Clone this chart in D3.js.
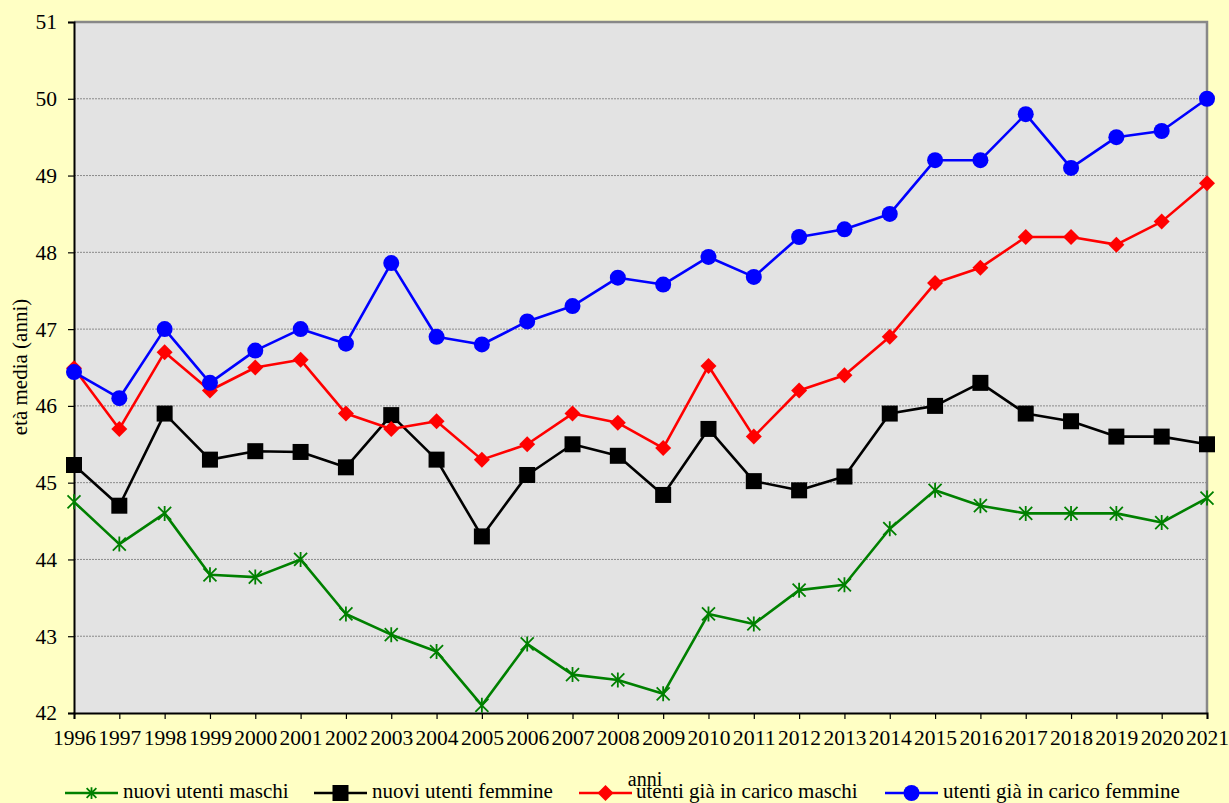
<!DOCTYPE html>
<html>
<head>
<meta charset="utf-8">
<script src="https://cdn.jsdelivr.net/npm/d3@7"></script>
<style>
  html, body { margin: 0; padding: 0; background: #FFFFC4; }
  svg { display: block; font-family: "Liberation Serif", "Times New Roman", serif; }
</style>
</head>
<body>
<svg id="chart" width="1229" height="803"></svg>
<script>
// Età media degli utenti per anno
const years = d3.range(1996, 2022);
const nuoviMaschi = [44.75, 44.2, 44.6, 43.8, 43.77, 44.0, 43.29, 43.02, 42.8, 42.1, 42.9, 42.5, 42.43, 42.25, 43.29, 43.16, 43.6, 43.67, 44.4, 44.9, 44.7, 44.6, 44.6, 44.6, 44.48, 44.8];
const nuoviFemmine = [45.23, 44.7, 45.9, 45.3, 45.41, 45.4, 45.2, 45.88, 45.3, 44.3, 45.1, 45.5, 45.35, 44.84, 45.7, 45.02, 44.9, 45.08, 45.9, 46.0, 46.3, 45.9, 45.8, 45.6, 45.6, 45.5];
const caricoMaschi = [46.49, 45.7, 46.7, 46.2, 46.5, 46.6, 45.9, 45.7, 45.8, 45.3, 45.5, 45.9, 45.78, 45.45, 46.52, 45.6, 46.2, 46.4, 46.9, 47.6, 47.8, 48.2, 48.2, 48.1, 48.4, 48.9];
const caricoFemmine = [46.44, 46.1, 47.0, 46.3, 46.72, 47.0, 46.81, 47.86, 46.9, 46.8, 47.1, 47.3, 47.67, 47.58, 47.94, 47.68, 48.2, 48.3, 48.5, 49.2, 49.2, 49.8, 49.1, 49.5, 49.58, 50.0];
const yTicks = [42, 43, 44, 45, 46, 47, 48, 49, 50, 51];
const seriesNames = ["nuovi utenti maschi", "nuovi utenti femmine", "utenti già in carico maschi", "utenti già in carico femmine"];

const series = [
  { name: seriesNames[0], values: nuoviMaschi,  color: "#008000", marker: "asterisk" },
  { name: seriesNames[1], values: nuoviFemmine, color: "#000000", marker: "square" },
  { name: seriesNames[2], values: caricoMaschi, color: "#FF0000", marker: "diamond" },
  { name: seriesNames[3], values: caricoFemmine, color: "#0000FF", marker: "circle" }
];

const svg = d3.select("#chart");
const plot = { left: 74, right: 1207, top: 22, bottom: 713 };

const x = d3.scaleLinear().domain([1996, 2021]).range([plot.left, plot.right]);
const y = d3.scaleLinear().domain([42, 51]).range([plot.bottom, plot.top]);

// plot area background
svg.append("rect")
  .attr("x", plot.left).attr("y", plot.top)
  .attr("width", plot.right - plot.left).attr("height", plot.bottom - plot.top)
  .attr("fill", "#E3E3E3");

// horizontal gridlines
svg.append("g").selectAll("line")
  .data(yTicks.filter(v => v > 42 && v < 51))
  .join("line")
  .attr("x1", plot.left).attr("x2", plot.right)
  .attr("y1", d => y(d)).attr("y2", d => y(d))
  .attr("stroke", "#8a8a8a").attr("stroke-width", 1)
  .attr("stroke-dasharray", "2,1");

// frame: grey top and right edges
svg.append("path")
  .attr("d", `M${plot.left},${plot.top}H${plot.right}V${plot.bottom}`)
  .attr("fill", "none").attr("stroke", "#888").attr("stroke-width", 2.5);

// y axis
const yAxis = d3.axisLeft(y).tickValues(yTicks).tickSize(6).tickPadding(11).tickFormat(d3.format("d"));
const gy = svg.append("g").attr("transform", `translate(${plot.left},0)`).call(yAxis);
gy.select(".domain").attr("stroke", "#000").attr("stroke-width", 2);
gy.selectAll(".tick line").attr("stroke", "#000").attr("stroke-width", 1.2);
gy.selectAll("text").attr("font-size", 21.5).attr("font-family", "Liberation Serif").attr("fill", "#000");

// x axis
const xAxis = d3.axisBottom(x).tickValues(years).tickSize(6).tickPadding(11).tickFormat(d3.format("d"));
const gx = svg.append("g").attr("transform", `translate(0,${plot.bottom})`).call(xAxis);
gx.select(".domain").attr("stroke", "#000").attr("stroke-width", 2);
gx.selectAll(".tick line").attr("stroke", "#000").attr("stroke-width", 1.2);
gx.selectAll("text").attr("font-size", 21.5).attr("font-family", "Liberation Serif").attr("fill", "#000")
  .attr("textLength", 43).attr("lengthAdjust", "spacingAndGlyphs");

// axis titles
svg.append("text")
  .attr("transform", `translate(27,367) rotate(-90)`)
  .attr("text-anchor", "middle")
  .attr("font-size", 21)
  .text("età media (anni)");

svg.append("text")
  .attr("x", 645).attr("y", 786)
  .attr("text-anchor", "middle")
  .attr("font-size", 20)
  .text("anni");

// marker drawing
function drawMarker(g, type, color, cx, cy, k = 1) {
  if (type === "square") {
    const h = 8 * k;
    g.append("rect").attr("x", cx - h).attr("y", cy - h).attr("width", 2 * h).attr("height", 2 * h).attr("fill", color);
  } else if (type === "diamond") {
    const h = 8 * k;
    g.append("path").attr("d", `M${cx},${cy - h}L${cx + h},${cy}L${cx},${cy + h}L${cx - h},${cy}Z`).attr("fill", color);
  } else if (type === "circle") {
    g.append("circle").attr("cx", cx).attr("cy", cy).attr("r", 8 * k).attr("fill", color);
  } else {
    const s = 6.5 * k;
    g.append("path")
      .attr("d", `M${cx - s},${cy - s}L${cx + s},${cy + s}M${cx - s},${cy + s}L${cx + s},${cy - s}M${cx},${cy - s - 1}V${cy + s + 1}`)
      .attr("stroke", color).attr("stroke-width", 1.8).attr("fill", "none");
  }
}

const line = d3.line().x((d, i) => x(years[i])).y(d => y(d));

series.forEach(s => {
  const g = svg.append("g");
  g.append("path")
    .datum(s.values)
    .attr("d", line)
    .attr("fill", "none")
    .attr("stroke", s.color)
    .attr("stroke-width", 2.6)
    .attr("stroke-linejoin", "round");
  s.values.forEach((v, i) => drawMarker(g, s.marker, s.color, x(years[i]), y(v)));
});

// legend
const legendItems = [
  { lx: 65, tx: 123 },
  { lx: 314, tx: 372 },
  { lx: 579, tx: 636 },
  { lx: 885, tx: 943 }
];
const ly = 793;
series.forEach((s, i) => {
  const g = svg.append("g");
  const it = legendItems[i];
  g.append("line").attr("x1", it.lx).attr("x2", it.lx + 53).attr("y1", ly).attr("y2", ly)
    .attr("stroke", s.color).attr("stroke-width", 2.6);
  drawMarker(g, s.marker, s.color, it.lx + 26.5, ly, s.marker === "asterisk" ? 0.75 : 1);
  g.append("text").attr("x", it.tx).attr("y", 798).attr("font-size", 21).text(s.name);
});
</script>
</body>
</html>
